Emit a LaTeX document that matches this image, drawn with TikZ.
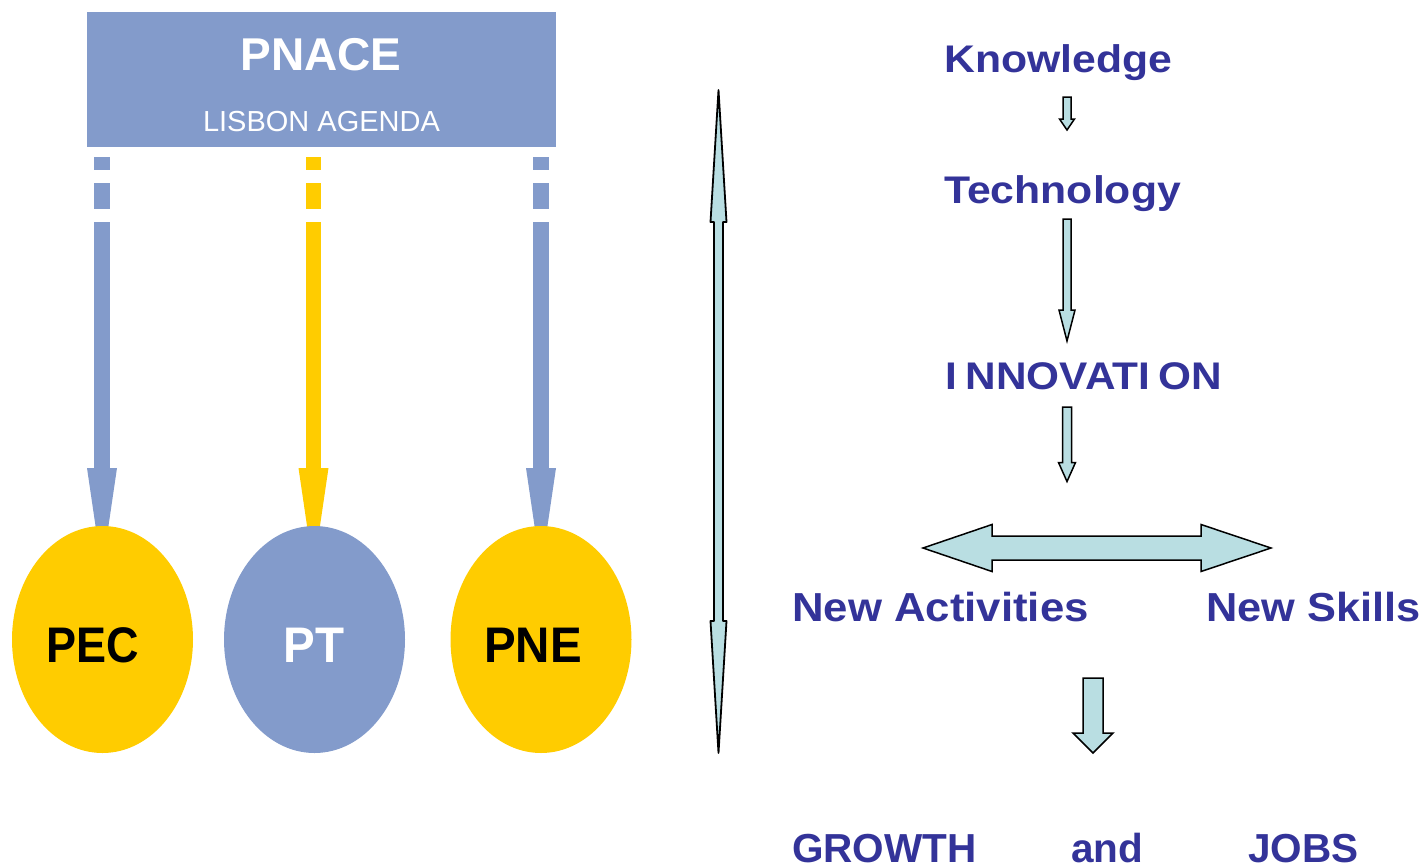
\documentclass[tikz,border=0pt]{standalone}
\usepackage{fontspec}
\setmainfont{Liberation Sans}
\usetikzlibrary{shapes.geometric}

\definecolor{paleblue}{RGB}{131,155,203}
\definecolor{gold}{RGB}{255,204,0}
\definecolor{navy}{RGB}{51,51,153}
\definecolor{aqua}{RGB}{185,222,226}

\newcommand\fsz[1]{\fontsize{#1}{#1}\selectfont}

% downward block arrow: centre x, top, head base, tip, shaft half width, head half width
\newcommand\blockdown[6]{%
  \filldraw[blockarrow] (#1-#5,#2) -- (#1+#5,#2) -- (#1+#5,#3) -- (#1+#6,#3)
    -- (#1,#4) -- (#1-#6,#3) -- (#1-#5,#3) -- cycle;}

% dashed feeder arrow: centre x, half width, colour
\newcommand\feeder[3]{%
  \fill[#3] (#1-#2,157) rectangle (#1+#2,170);
  \fill[#3] (#1-#2,183) rectangle (#1+#2,209);
  \fill[#3] (#1-#2,222) rectangle (#1+#2,469);
  \fill[#3] (#1-15,468) -- (#1+15,468) -- (#1,570) -- cycle;}

\tikzset{
  blockarrow/.style={fill=aqua, draw=black, line width=1.5pt, line join=miter},
  righttext/.style={anchor=base west, inner sep=0pt, text=navy, font=\bfseries\fsz{38.5}},
  lowtext/.style={anchor=base west, inner sep=0pt, text=navy, font=\bfseries\fsz{40.5}},
  bubble/.style={ellipse, minimum width=181pt, minimum height=227pt, inner sep=0pt},
  bubbletext/.style={anchor=base, inner sep=0pt, font=\bfseries\fsz{50}}
}

\begin{document}
\begin{tikzpicture}[x=1pt, y=-1pt]
\useasboundingbox (0,0) rectangle (1427,863);

% header block
\fill[paleblue] (87,12) rectangle (556,147);
\node[anchor=base, inner sep=0pt, text=white, font=\bfseries\fsz{46}] (pnace) at (321,70) {PNACE};
\node[anchor=base, inner sep=0pt, text=white, font=\fsz{29}] (lisbon) at (321.5,131) {LISBON AGENDA};

% feeder arrows from the header down to the programmes
\feeder{102}{8}{paleblue}
\feeder{313.5}{7.5}{gold}
\feeder{541}{8}{paleblue}

% programmes
\node[bubble, fill=gold] (pec) at (102.5,639.5) {};
\node[bubble, fill=paleblue] (pt) at (314.5,639.5) {};
\node[bubble, fill=gold] (pne) at (541,639.5) {};
\node[bubbletext, text=black] (pectext) at (92.5,662) {\scalebox{0.9}[1]{PEC}};
\node[bubbletext, text=white] (pttext) at (314,662) {\scalebox{0.95}[1]{PT}};
\node[bubbletext, text=black] (pnetext) at (533,662) {\scalebox{0.95}[1]{PNE}};

% long two-headed arrow
\filldraw[blockarrow, line width=1.8pt, line join=round]
  (718.5,90) -- (726.5,222) -- (723,222) -- (723,621) -- (726.5,621) -- (718.5,753)
  -- (710.5,621) -- (714,621) -- (714,222) -- (710.5,222) -- cycle;

% chain from knowledge to growth
\node[righttext] (know) at (944,72) {\scalebox{1.11}[1]{Knowledge}};
\node[righttext] (tech) at (944,203) {\scalebox{1.11}[1]{Technology}};
\node[righttext] (innov) at (945,389) {\scalebox{1.1}[1]{I\kern8pt NNOVATI\kern8pt ON}};
\blockdown{1067}{97}{119}{130}{4}{7.5}
\blockdown{1067}{219}{310}{341}{4}{8}
\blockdown{1067}{407}{462.5}{481.5}{4.5}{8.5}

\filldraw[blockarrow]
  (923,548) -- (992,524.5) -- (992,536) -- (1201,536) -- (1201,524.5) -- (1271,548)
  -- (1201,571.5) -- (1201,560) -- (992,560) -- (992,571.5) -- cycle;

\node[lowtext] (act) at (792,621) {\scalebox{1.08}[1]{New Activities}};
\node[lowtext] (skills) at (1206,621) {\scalebox{1.07}[1]{New Skills}};
\blockdown{1093}{678}{733}{753}{10}{20}

\node[lowtext] (growth) at (792,862) {GROWTH};
\node[lowtext] (and) at (1071,862) {and};
\node[lowtext] (jobs) at (1248,862) {JOBS};
\end{tikzpicture}
\end{document}
